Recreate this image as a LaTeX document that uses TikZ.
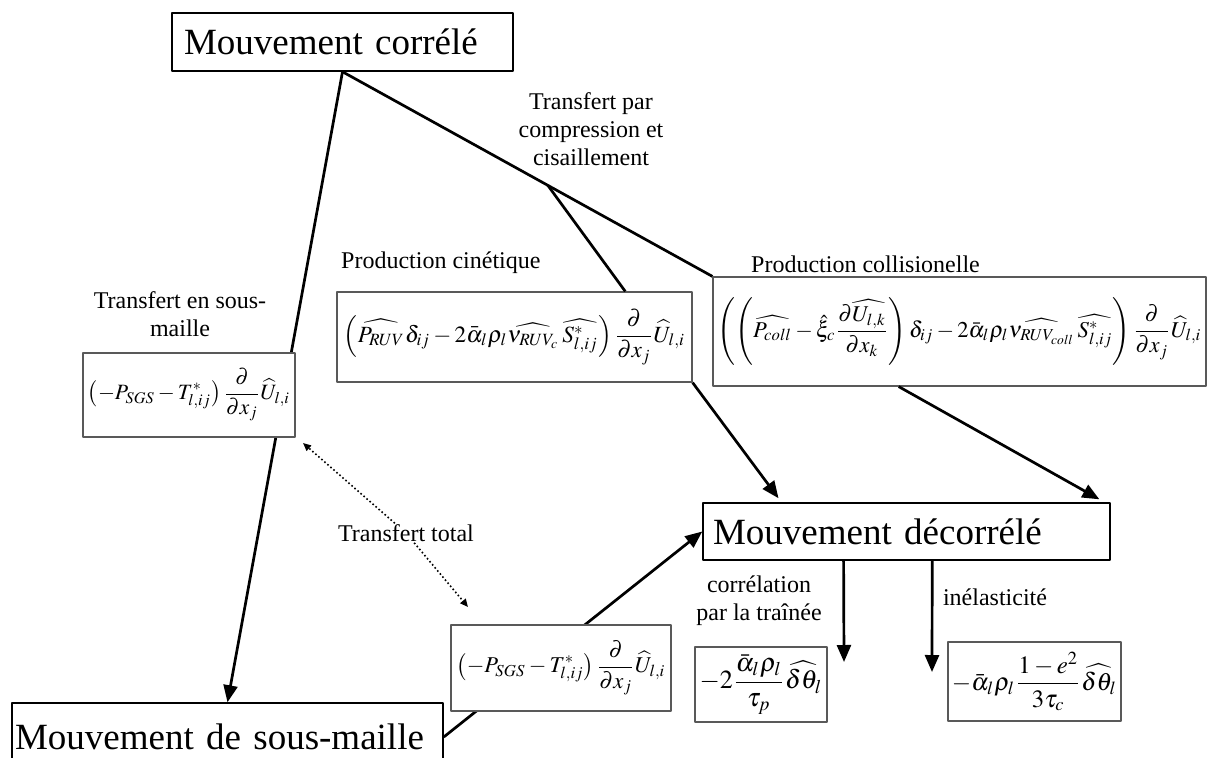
\documentclass[tikz,border=0pt]{standalone}
\usepackage{mathptmx}
\usepackage{fontspec}
\setmainfont{Liberation Serif}
\usepackage{graphicx}
\usetikzlibrary{arrows.meta,calc}

\begin{document}
\begin{tikzpicture}[x=1pt, y=-1pt, line join=round, >={Triangle[length=17pt,width=14pt]},
	title/.style={draw, line width=1.5pt, fill=white, font=\fontsize{37}{40}\selectfont, align=left, inner ysep=0pt},
	term/.style={draw=black!65, line width=1.2pt, fill=white, inner sep=0pt},
	lbl/.style={font=\fontsize{24}{28}\selectfont, align=center, inner sep=1pt},
	link/.style={line width=2.7pt},
	flow/.style={line width=2.7pt, ->},
	total/.style={line width=1.6pt, dash pattern=on 1.6pt off 2.4pt, -{Triangle[length=8pt,width=7pt]}}]
	\def\fml#1#2{\resizebox{#1pt}{!}{$\displaystyle #2$}}
	\useasboundingbox (0,0) rectangle (1208,758);
	
	% mouvements
	\node[title, text width=317pt, inner xsep=12pt, minimum height=58pt] (corr) at (342.5,42) {Mouvement corrélé};
	\node[title, text width=387pt, inner xsep=10pt, minimum height=57pt] (dec) at (906.5,531.5) {Mouvement décorrélé};
	\node[title, text width=425pt, inner xsep=3pt, minimum height=68pt] (sm) at (227.5,737) {Mouvement de sous-maille};
	
	\draw[flow] (corr.south) -- (sm.north);
	\draw[flow] (sm.east) -- (dec.west);
	
	% termes de transfert
	\node[term, minimum width=212pt, minimum height=84pt] (sgs) at (189,395)
		{\fml{202}{\left(-P_{SGS}-T^{*}_{l,ij}\right)\frac{\partial}{\partial x_j}\widehat{U}_{l,i}}};
	\node[term, minimum width=220pt, minimum height=86pt] (sgsb) at (561,668)
		{\fml{209}{\left(-P_{SGS}-T^{*}_{l,ij}\right)\frac{\partial}{\partial x_j}\widehat{U}_{l,i}}};
	\node[term, minimum width=355pt, minimum height=90pt] (cin) at (514.5,337)
		{\fml{341}{\left(\widehat{P_{RUV}}\delta_{ij}-2\bar{\alpha}_l\rho_l\widehat{\nu_{RUV_c}}\,\widehat{S^{*}_{l,ij}}\right)\frac{\partial}{\partial x_j}\widehat{U}_{l,i}}};
	\node[term, minimum width=493pt, minimum height=109pt] (col) at (959.5,331.5)
		{\fml{484}{\left(\left(\widehat{P_{coll}}-\hat{\xi}_c\frac{\partial\widehat{U_{l,k}}}{\partial x_k}\right)\delta_{ij}-2\bar{\alpha}_l\rho_l\widehat{\nu_{RUV_{coll}}}\,\widehat{S^{*}_{l,ij}}\right)\frac{\partial}{\partial x_j}\widehat{U}_{l,i}}};
	\node[term, minimum width=132pt, minimum height=75pt] (drag) at (761,684.5)
		{\fml{123}{-2\frac{\bar{\alpha}_l\rho_l}{\tau_p}\widehat{\delta\theta_l}}};
	\node[term, minimum width=173pt, minimum height=79pt] (inel) at (1034.5,681.5)
		{\fml{165}{-\bar{\alpha}_l\rho_l\frac{1-e^2}{3\tau_c}\widehat{\delta\theta_l}}};
	
	\draw[link] (corr.south) -- (col.north west);
	\path (corr.south) -- (col.north west) coordinate[pos=0.555] (split);
	\draw[link] (split) -- ($(cin.north west)!0.811!(cin.north east)$);
	
	\draw[flow, shorten >=5pt] (cin.south east) -- ($(dec.north west)!0.194!(dec.north east)$);
	\draw[flow, shorten >=6pt] ($(col.south west)!0.377!(col.south east)$) -- ($(dec.north west)!0.985!(dec.north east)$);
	
	\coordinate (dragend) at (844,662);
	\coordinate (inelend) at (932,672);
	\draw[flow] ($(dec.south west)!0.346!(dec.south east)$) -- (dragend);
	\draw[flow] ($(dec.south west)!0.563!(dec.south east)$) -- (inelend);
	
	% etiquettes
	\node[lbl] (lcomp) at (591,129) {Transfert par\\compression et\\cisaillement};
	\node[lbl] (lsgs) at (180,314) {Transfert en sous-\\maille};
	\node[lbl, anchor=west] (lcin) at (340,263) {Production cinétique};
	\node[lbl, anchor=west] (lcol) at (750,264) {Production collisionelle};
	\node[lbl] (lcor) at (759,601) {corrélation\\par la traînée};
	\node[lbl] (lin) at (995,597) {inélasticité};
	
	\node[lbl] (tt) at (406,533) {Transfert total};
	\coordinate (tta) at (303,443);
	\coordinate (ttb) at (468,607);
	\draw[total] (tt) -- (tta);
	\draw[total] (tt) -- (ttb);
\end{tikzpicture}
\end{document}
